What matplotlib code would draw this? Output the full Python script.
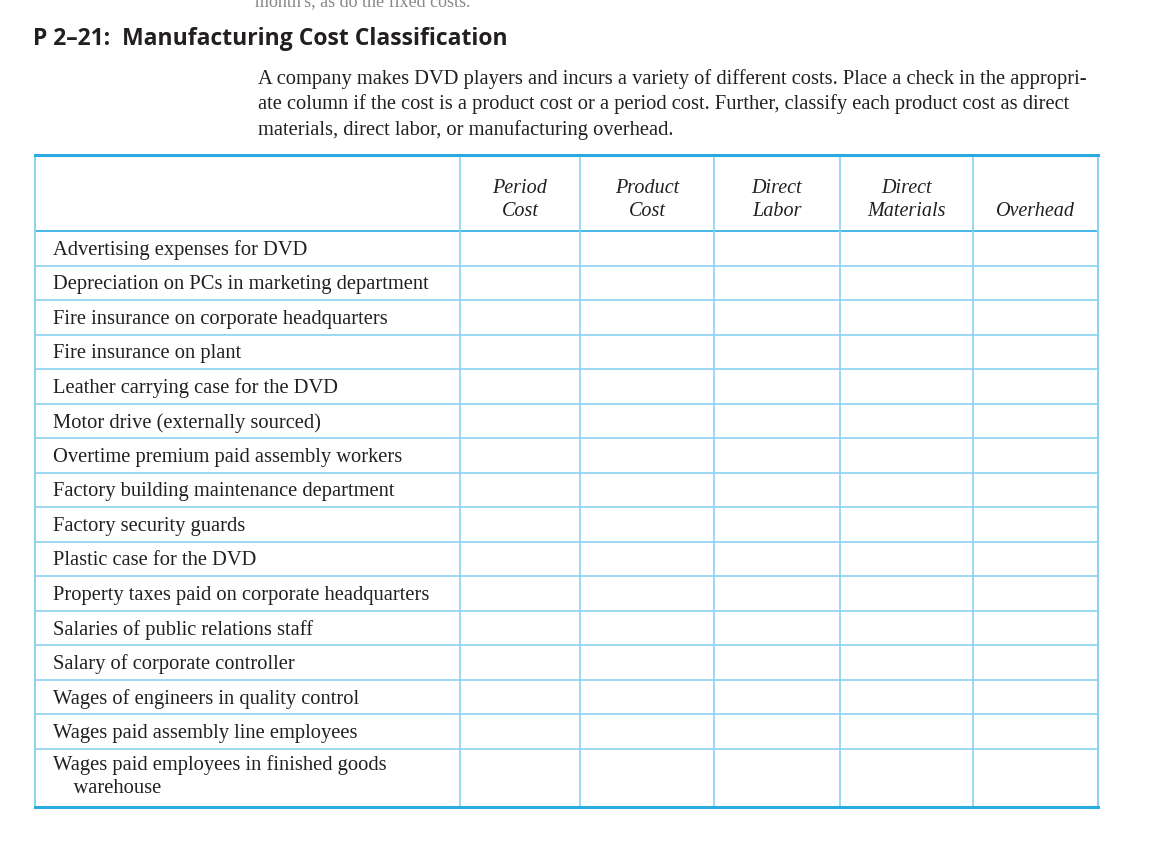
import matplotlib
matplotlib.use("Agg")
import matplotlib.pyplot as plt

TITLE = "P 2\u201321:  Manufacturing Cost Classification"
INTRO = [
    "A company makes DVD players and incurs a variety of different costs. Place a check in the appropri-",
    "ate column if the cost is a product cost or a period cost. Further, classify each product cost as direct",
    "materials, direct labor, or manufacturing overhead.",
]
COLUMNS = ["Period\nCost", "Product\nCost", "Direct\nLabor", "Direct\nMaterials", "Overhead"]
ITEMS = [
    "Advertising expenses for DVD",
    "Depreciation on PCs in marketing department",
    "Fire insurance on corporate headquarters",
    "Fire insurance on plant",
    "Leather carrying case for the DVD",
    "Motor drive (externally sourced)",
    "Overtime premium paid assembly workers",
    "Factory building maintenance department",
    "Factory security guards",
    "Plastic case for the DVD",
    "Property taxes paid on corporate headquarters",
    "Salaries of public relations staff",
    "Salary of corporate controller",
    "Wages of engineers in quality control",
    "Wages paid assembly line employees",
    "Wages paid employees in finished goods\n    warehouse",
]

W, H = 1170, 849
fig = plt.figure(figsize=(W / 100, H / 100), dpi=100)
ax = fig.add_axes([0, 0, 1, 1])
ax.set_xlim(0, W)
ax.set_ylim(H, 0)
ax.axis("off")

serif = "Liberation Serif"
dark = "#231f20"
blue = "#29abe2"
light = "#8ad2f0"

ax.text(255, 3, "month's, as do the fixed costs.", fontsize=13, family=serif, color="#888888",
        va="center", clip_on=True)
ax.text(33, 39, TITLE, fontsize=16.5, family="Open Sans", weight="bold", color=dark, va="center")
for i, line in enumerate(INTRO):
    ax.text(258, 79 + i * 25.5, line, fontsize=14.8, family=serif, color=dark, va="center")

xs = [35, 460, 580, 714, 840, 973, 1098]
header_top, header_bot = 155, 231
row_h = 34.5
ys = [header_bot + i * row_h for i in range(len(ITEMS))] + [807]

# header labels
for j, col in enumerate(COLUMNS):
    cx = (xs[j + 1] + xs[j + 2]) / 2
    ax.text(cx, 221, col, fontsize=14.5, family=serif, style="italic", color=dark,
            ha="center", va="bottom", linespacing=1.3)

for i, item in enumerate(ITEMS):
    y0, y1 = ys[i], ys[i + 1]
    multi = "\n" in item
    ax.text(53, y0 + 7 if multi else (y0 + y1) / 2 + 2, item, fontsize=14.8, family=serif,
            color=dark, va="top" if multi else "center", linespacing=1.25)

# grid
for y in ys[:-1]:
    ax.plot([xs[0], xs[-1]], [y, y], color=light if y != header_bot else blue, lw=1.2)
for x in xs[1:-1]:
    ax.plot([x, x], [header_top, ys[-1]], color=light, lw=1.2)
for x in (xs[0], xs[-1]):
    ax.plot([x, x], [header_top, ys[-1]], color=light, lw=1.4)
ax.plot([xs[0], xs[-1]], [header_top, header_top], color=blue, lw=2.2)
ax.plot([xs[0], xs[-1]], [ys[-1], ys[-1]], color=blue, lw=2.2)

fig.savefig("out.png", dpi=100, facecolor="white")
